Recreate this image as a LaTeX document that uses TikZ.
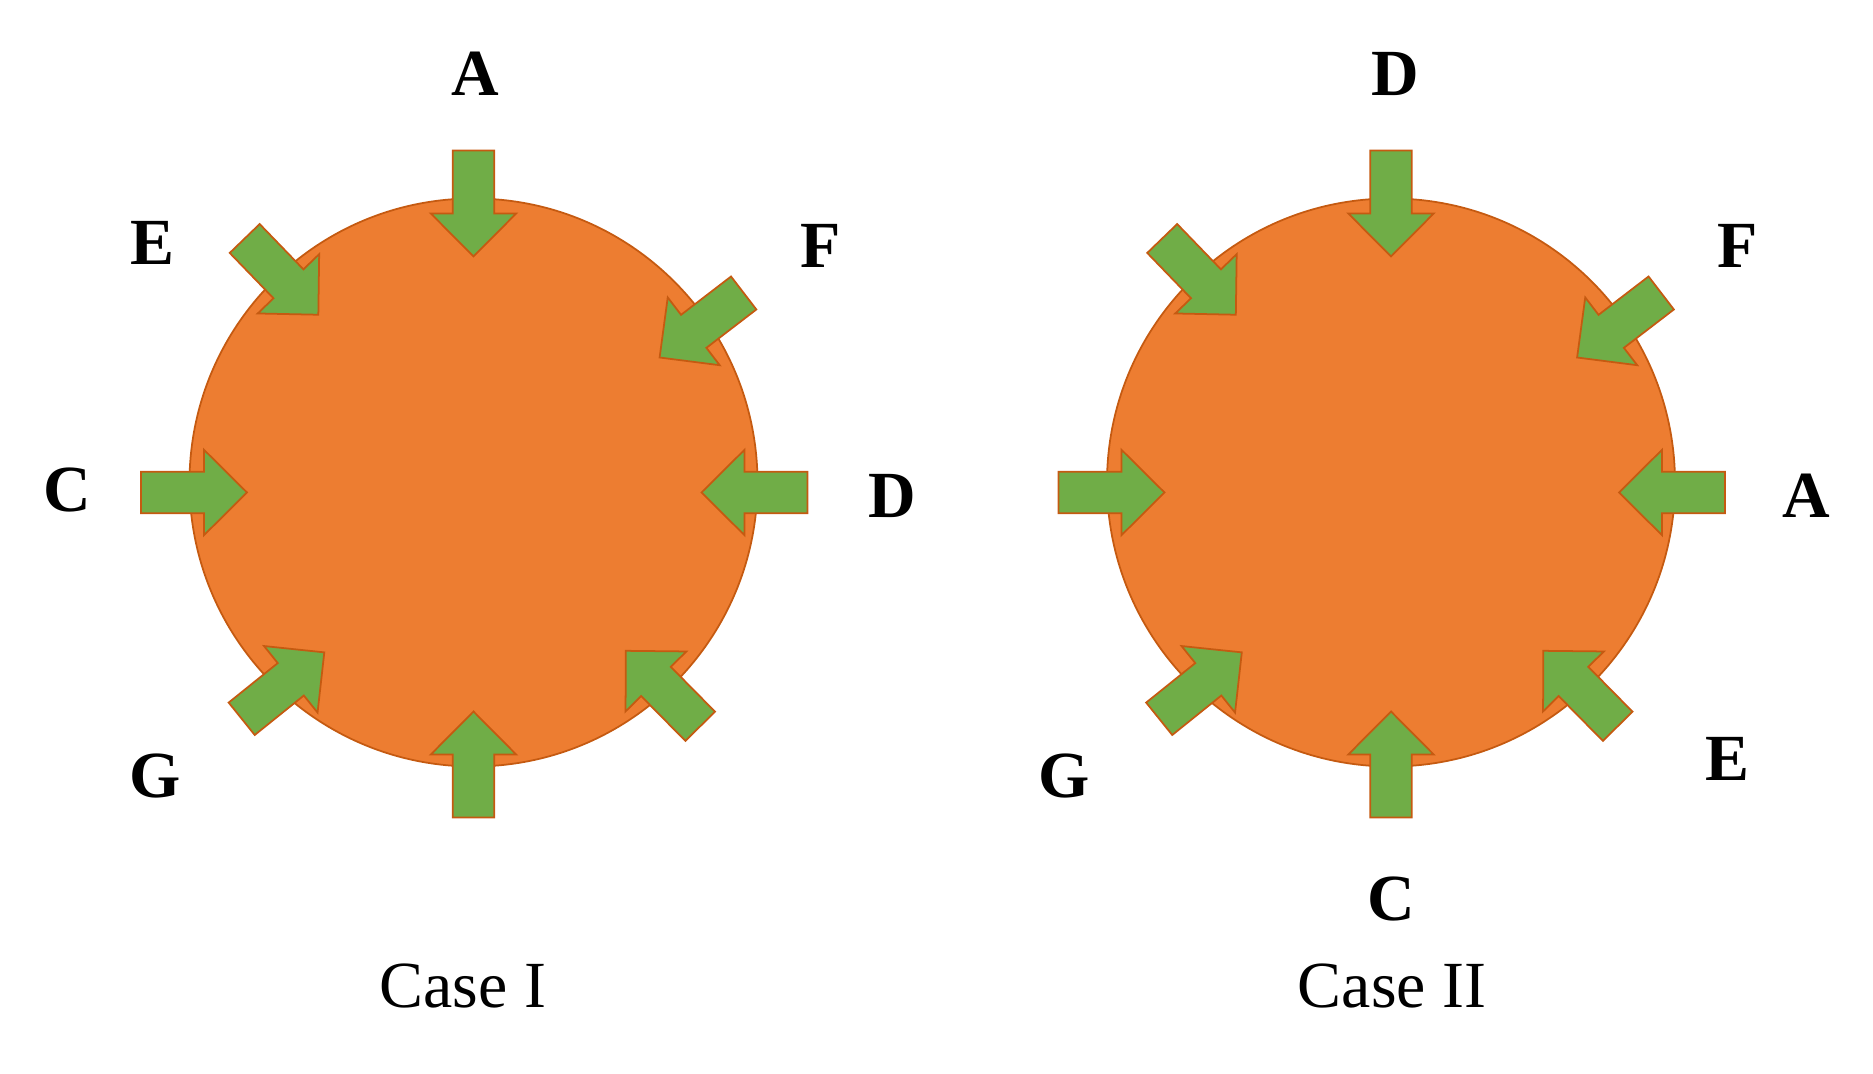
\documentclass[tikz,border=0pt]{standalone}
\usepackage{fontspec}
\setmainfont{Liberation Serif}
\usepackage{tikz}
\definecolor{ballorange}{HTML}{ED7D31}
\definecolor{pushgreen}{HTML}{70AD47}
\definecolor{rimbrown}{HTML}{C55A11}
\tikzset{
  ball/.style={fill=ballorange, draw=rimbrown, line width=1pt},
  push/.style={fill=pushgreen, draw=rimbrown, line width=1pt, line join=miter},
  tag/.style={font=\fontsize{37.5}{40}\selectfont\bfseries, inner sep=0pt},
  casename/.style={font=\fontsize{37.5}{40}\selectfont, inner sep=0pt}
}
% arrow: tail middle at (#1,#2), pointing at angle #3
\def\pusharrow(#1,#2)(#3){\draw[push, shift={(#1,#2)}, rotate=#3] (0,-20.8) -- (63,-20.8) -- (63,-42.7) -- (106,0) -- (63,42.7) -- (63,20.8) -- (0,20.8) -- cycle;}
\def\pushball{
		\draw[ball] (0,0) circle (284);
		\pusharrow(0,332)(-90);
		\pusharrow(0,-335)(90);
		\pusharrow(-332.5,-10)(0);
		\pusharrow(334,-10)(180);
		\pusharrow(-228.8,244)(-46);
		\pusharrow(270.2,189.5)(217.5);
		\pusharrow(-231.8,-236.3)(38.8);
		\pusharrow(226.7,-243.8)(134.6);
}
\begin{document}
\begin{tikzpicture}[x=0.02cm, y=0.02cm]
		\useasboundingbox (0,0) rectangle (1873,1074);
		
		%%%%% CASE I %%%%%
		\begin{scope}[shift={(473.5,591.5)}]
			\pushball
		\end{scope}
		\node[tag] (oneA) at (475,1000) {A};
		\node[tag] (oneE) at (152,831) {E};
		\node[tag] (oneF) at (821,828) {F};
		\node[tag] (oneC) at (67,584) {C};
		\node[tag] (oneD) at (892,578) {D};
		\node[tag] (oneG) at (155,298) {G};
		\node[casename] (caseone) at (463,88) {Case I};
		
		%%%%% CASE II %%%%%
		\begin{scope}[shift={(1391,591.5)}]
			\pushball
		\end{scope}
		\node[tag] (twoD) at (1395,1000) {D};
		\node[tag] (twoF) at (1738,828) {F};
		\node[tag] (twoA) at (1806,578) {A};
		\node[tag] (twoE) at (1727,315) {E};
		\node[tag] (twoC) at (1391,175) {C};
		\node[tag] (twoG) at (1064,298) {G};
		\node[casename] (casetwo) at (1392,88) {Case II};
\end{tikzpicture}
\end{document}
